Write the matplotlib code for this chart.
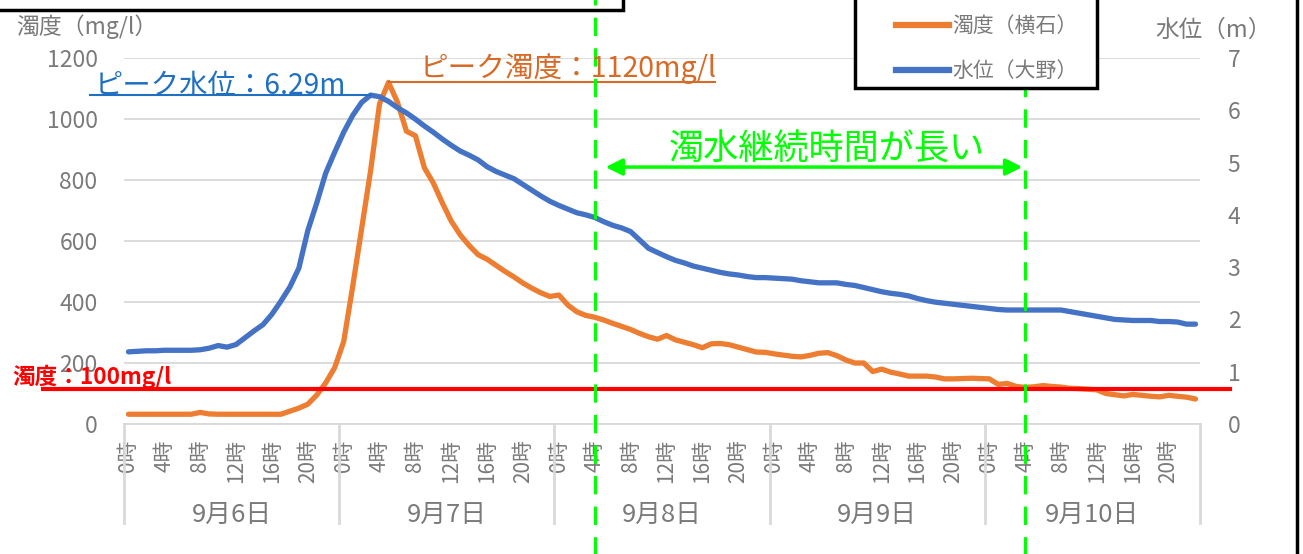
import matplotlib.pyplot as plt
import matplotlib.transforms as mtransforms
from matplotlib.patches import Rectangle
from matplotlib.lines import Line2D

plt.rcParams['font.family'] = ['Noto Sans CJK JP', 'DejaVu Sans']

# 日付と時刻（1時間ごと、9月6日0時〜9月10日23時）
days = ['9月6日', '9月7日', '9月8日', '9月9日', '9月10日']
tick_hours = [0, 4, 8, 12, 16, 20]

# 濁度（横石） mg/l
turbidity = [32, 32, 32, 32, 32, 32, 32, 32, 38, 33, 32, 32, 32, 32, 32, 32, 32, 32, 42, 52, 65, 95, 135, 185,
             270, 450, 640, 830, 1050, 1120, 1055, 960, 945, 840, 790, 725, 665, 620, 585, 555, 540, 520, 500, 482, 462, 445, 430, 418,
             423, 390, 368, 356, 350, 341, 330, 320, 310, 297, 286, 278, 290, 276, 268, 260, 250, 263, 264, 260, 252, 244, 236, 235,
             230, 226, 222, 220, 225, 232, 234, 224, 210, 200, 200, 172, 180, 170, 164, 157, 157, 157, 154, 148, 148, 149, 150, 149,
             148, 130, 133, 123, 120, 122, 126, 123, 121, 117, 116, 114, 112, 100, 96, 92, 97, 94, 91, 89, 94, 91, 88, 82]

# 水位（大野） m
water_level = [1.38, 1.39, 1.40, 1.40, 1.41, 1.41, 1.41, 1.41, 1.42, 1.45, 1.50, 1.47, 1.52, 1.65, 1.78, 1.90, 2.10, 2.35, 2.62, 2.98, 3.70, 4.23, 4.80, 5.20,
               5.58, 5.90, 6.15, 6.29, 6.26, 6.17, 6.05, 5.95, 5.83, 5.70, 5.58, 5.45, 5.33, 5.22, 5.14, 5.05, 4.92, 4.83, 4.76, 4.69, 4.58, 4.47, 4.36, 4.26,
               4.18, 4.11, 4.04, 4.00, 3.95, 3.87, 3.80, 3.75, 3.68, 3.52, 3.36, 3.28, 3.20, 3.13, 3.08, 3.02, 2.98, 2.94, 2.90, 2.87, 2.85, 2.82, 2.80, 2.80,
               2.79, 2.78, 2.77, 2.74, 2.72, 2.70, 2.70, 2.70, 2.67, 2.65, 2.61, 2.57, 2.53, 2.50, 2.48, 2.45, 2.40, 2.36, 2.33, 2.31, 2.29, 2.27, 2.25, 2.23,
               2.21, 2.19, 2.18, 2.18, 2.18, 2.18, 2.18, 2.18, 2.18, 2.15, 2.12, 2.09, 2.06, 2.03, 2.00, 1.99, 1.98, 1.98, 1.98, 1.96, 1.96, 1.95, 1.91, 1.91]

threshold_label = '濁度：100mg/l'
threshold_drawn = 114      # 赤線の位置（図上で読み取り）
long_start, long_end = 52, 100   # 9月8日4時〜9月10日4時

W, H = 1303, 554
gray = '#7a7a7a'
orange = '#ED7D31'
blue = '#4472C4'
lime = '#00FF00'

def fx(x):
    return x / W

def fy(y):
    return 1 - y / H

fig = plt.figure(figsize=(W / 100, H / 100), dpi=100)
ax = fig.add_axes([fx(124), fy(424), (1200 - 124) / W, (424 - 58) / H])
ax2 = ax.twinx()

n = len(turbidity)
x = list(range(n))

ax.plot(x, turbidity, color=orange, lw=3.8, solid_capstyle='round')
ax2.plot(x, water_level, color=blue, lw=3.8, solid_capstyle='round')

ax.set_xlim(-0.5, n - 0.5)
ax.set_ylim(0, 1200)
ax2.set_ylim(0, 7)
ax.set_yticks(range(0, 1201, 200))
ax2.set_yticks(range(0, 8))
ax.grid(axis='y', color='#d9d9d9', lw=1.3)
ax.set_axisbelow(True)
for a in (ax, ax2):
    for s in a.spines.values():
        s.set_visible(False)
ax.spines['bottom'].set_visible(True)
ax.spines['bottom'].set_color('#d9d9d9')
ax.spines['bottom'].set_linewidth(1.3)

ax.tick_params(axis='y', length=0, pad=19, labelsize=16.5, labelcolor=gray)
ax2.tick_params(axis='y', length=0, pad=20, labelsize=16.5, labelcolor=gray)

xt, xl = [], []
for d in range(len(days)):
    for h in tick_hours:
        xt.append(d * 24 + h)
        xl.append(f'{h}時')
ax.set_xticks(xt)
ax.set_xticklabels(xl, rotation=90, va='top', ha='center')
ax.tick_params(axis='x', length=0, pad=11, labelsize=15, labelcolor=gray)

# 日付ラベルと区切り線
bt = mtransforms.blended_transform_factory(ax.transData, ax.transAxes)
for d, day in enumerate(days):
    ax.text(d * 24 + 11.5, -0.249, day, transform=bt, ha='center', va='center',
            fontsize=18.5, color=gray)
for d in range(len(days) + 1):
    ax.plot([d * 24 - 0.5] * 2, [0, -0.27], transform=bt, color='#d9d9d9', lw=2, clip_on=False)

# 軸タイトル
fig.text(fx(16), fy(27), '濁度（mg/l）', ha='left', va='center', fontsize=16.5, color=gray)
fig.text(fx(1155), fy(30), '水位（m）', ha='left', va='center', fontsize=17, color=gray)

# 赤線（濁度100mg/l）
rt = mtransforms.blended_transform_factory(ax.transAxes, ax.transData)
ax2.plot([-0.075, 1.028], [threshold_drawn] * 2, transform=rt, color='red', lw=3, clip_on=False, zorder=5)
fig.text(fx(12), fy(377), threshold_label, ha='left', va='center', fontsize=16.3,
         fontweight='bold', color='red')

# 濁水継続時間
for xv in (long_start, long_end):
    ax2.plot([xv, xv], [-0.36, 1.16], transform=bt, color=lime, lw=2.2,
             dashes=(6, 4), clip_on=False, zorder=6)
ax2.annotate('', xy=(long_end, 0.702), xytext=(long_start + 0.9, 0.702), xycoords=bt, textcoords=bt,
             arrowprops=dict(arrowstyle='<|-|>', color=lime, lw=2.5, mutation_scale=25), zorder=6)
fig.text(fx(827), fy(150), '濁水継続時間が長い', ha='center', va='center', fontsize=25.3, color=lime)

# ピーク注記
pk_t = turbidity.index(max(turbidity))
pk_w = water_level.index(max(water_level))
ax2.plot([-4.3, pk_w], [max(water_level)] * 2, color='#1f70c1', lw=1.5, clip_on=False, zorder=6)
fig.text(fx(95), fy(94), f'ピーク水位：{max(water_level):.2f}m', ha='left', va='baseline',
         fontsize=20.4, color='#1f70c1')
ax.plot([pk_t, 65.4], [max(turbidity)] * 2, color='#d66b28', lw=1.5, clip_on=False, zorder=6)
fig.text(fx(420), fy(77), f'ピーク濁度：{max(turbidity)}mg/l', ha='left', va='baseline',
         fontsize=20.6, color='#d66b28')

# 凡例と枠
fig.patches.append(Rectangle((fx(855), fy(88)), (1097 - 855) / W, 100 / H, transform=fig.transFigure,
                             facecolor='white', edgecolor='black', lw=2.5, zorder=10))
leg_handles = [Line2D([], [], color=orange, lw=4.5), Line2D([], [], color=blue, lw=4.5)]
leg = fig.legend(leg_handles, ['濁度（横石）', '水位（大野）'], loc='upper left',
                 bbox_to_anchor=(fx(886), fy(5)), frameon=False, fontsize=15,
                 handlelength=2.5, handletextpad=0.2, labelspacing=1.1, borderpad=0)
for t in leg.get_texts():
    t.set_color(gray)
leg.set_zorder(11)

fig.patches.append(Rectangle((fx(-5), fy(10)), 628 / W, 30 / H, transform=fig.transFigure,
                             facecolor='none', edgecolor='black', lw=2.5, zorder=4))
fig.lines.append(Line2D([fx(1297)] * 2, [0, 1], transform=fig.transFigure, color='black', lw=2.5))

fig.savefig('out.png', dpi=100)
